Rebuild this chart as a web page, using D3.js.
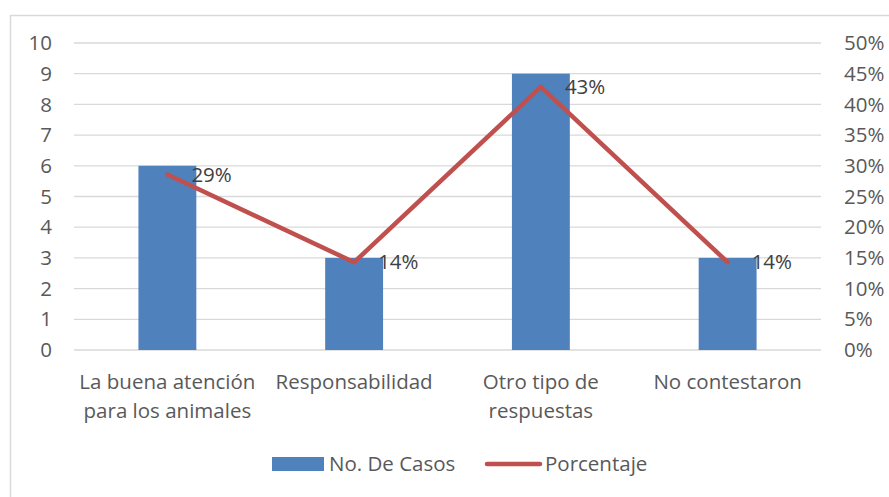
<!DOCTYPE html>
<html>
<head>
<meta charset="utf-8">
<script src="https://cdn.jsdelivr.net/npm/d3@7"></script>
<style>
  body { margin: 0; background: #fff; }
  text { font-family: "Open Sans", "Noto Sans", sans-serif; fill: #595959; }
</style>
</head>
<body>
<script>
// chart data
var categories = [["La buena atención", "para los animales"], ["Responsabilidad"], ["Otro tipo de", "respuestas"], ["No contestaron"]];
var casos = [6, 3, 9, 3];
var porcentaje = [0.2857, 0.1429, 0.4286, 0.1429];
var pctLabels = ["29%", "14%", "43%", "14%"];
var leftTicks = [0, 1, 2, 3, 4, 5, 6, 7, 8, 9, 10];
var rightTicks = [0, 0.05, 0.10, 0.15, 0.20, 0.25, 0.30, 0.35, 0.40, 0.45, 0.50];

var W = 889, H = 497;
var plotL = 74, plotR = 821, plotT = 43, plotB = 350;
var fs = "20.5px";

var svg = d3.select("body").append("svg")
  .attr("width", W)
  .attr("height", H);

// outer chart border
svg.append("rect")
  .attr("x", 10.5).attr("y", 15.5)
  .attr("width", 900).attr("height", 520)
  .attr("fill", "none")
  .attr("stroke", "#d9d9d9")
  .attr("stroke-width", 1.5);

var x = d3.scaleBand().domain(d3.range(categories.length)).range([plotL, plotR]).paddingInner(0.69).paddingOuter(0.345);
var y = d3.scaleLinear().domain([0, 10]).range([plotB, plotT]);
var y2 = d3.scaleLinear().domain([0, 0.5]).range([plotB, plotT]);

// gridlines
svg.append("g").selectAll("line")
  .data(leftTicks)
  .enter().append("line")
  .attr("x1", plotL).attr("x2", plotR)
  .attr("y1", d => y(d)).attr("y2", d => y(d))
  .attr("stroke", "#d9d9d9")
  .attr("stroke-width", 1.3);

// left axis labels
svg.append("g").selectAll("text")
  .data(leftTicks)
  .enter().append("text")
  .attr("x", 52).attr("y", d => y(d))
  .attr("dy", "0.35em")
  .attr("text-anchor", "end")
  .style("font-size", fs)
  .text(d => d);

// right axis labels
svg.append("g").selectAll("text")
  .data(rightTicks)
  .enter().append("text")
  .attr("x", 844).attr("y", d => y2(d))
  .attr("dy", "0.35em")
  .style("font-size", fs)
  .text(d => Math.round(d * 100) + "%");

// bars
svg.append("g").selectAll("rect")
  .data(casos)
  .enter().append("rect")
  .attr("x", (d, i) => x(i))
  .attr("y", d => y(d))
  .attr("width", x.bandwidth())
  .attr("height", d => plotB - y(d))
  .attr("fill", "#4f81bd");

// line
var cx = i => x(i) + x.bandwidth() / 2;
var line = d3.line().x((d, i) => cx(i)).y(d => y2(d));
svg.append("path")
  .datum(porcentaje)
  .attr("d", line)
  .attr("fill", "none")
  .attr("stroke", "#c0504d")
  .attr("stroke-width", 4.5)
  .attr("stroke-linecap", "round")
  .attr("stroke-linejoin", "round");

// data labels
svg.append("g").selectAll("text")
  .data(porcentaje)
  .enter().append("text")
  .attr("x", (d, i) => cx(i) + 24)
  .attr("y", d => y2(d))
  .attr("dy", "0.35em")
  .style("font-size", fs)
  .style("fill", "#404040")
  .text((d, i) => pctLabels[i]);

// category labels
var cat = svg.append("g").selectAll("text")
  .data(categories)
  .enter().append("text")
  .attr("text-anchor", "middle")
  .style("font-size", fs);
cat.each(function(d, i) {
  var t = d3.select(this);
  d.forEach(function(s, j) {
    t.append("tspan")
      .attr("x", cx(i))
      .attr("y", 389 + j * 29)
      .text(s);
  });
});

// legend
svg.append("rect")
  .attr("x", 272).attr("y", 457)
  .attr("width", 52).attr("height", 14)
  .attr("fill", "#4f81bd");
svg.append("text")
  .attr("x", 329).attr("y", 464)
  .attr("dy", "0.35em")
  .style("font-size", fs)
  .text("No. De Casos");
svg.append("line")
  .attr("x1", 487).attr("x2", 540)
  .attr("y1", 464).attr("y2", 464)
  .attr("stroke", "#c0504d")
  .attr("stroke-width", 4.5)
  .attr("stroke-linecap", "round");
svg.append("text")
  .attr("x", 545).attr("y", 464)
  .attr("dy", "0.35em")
  .style("font-size", fs)
  .text("Porcentaje");
</script>
</body>
</html>
